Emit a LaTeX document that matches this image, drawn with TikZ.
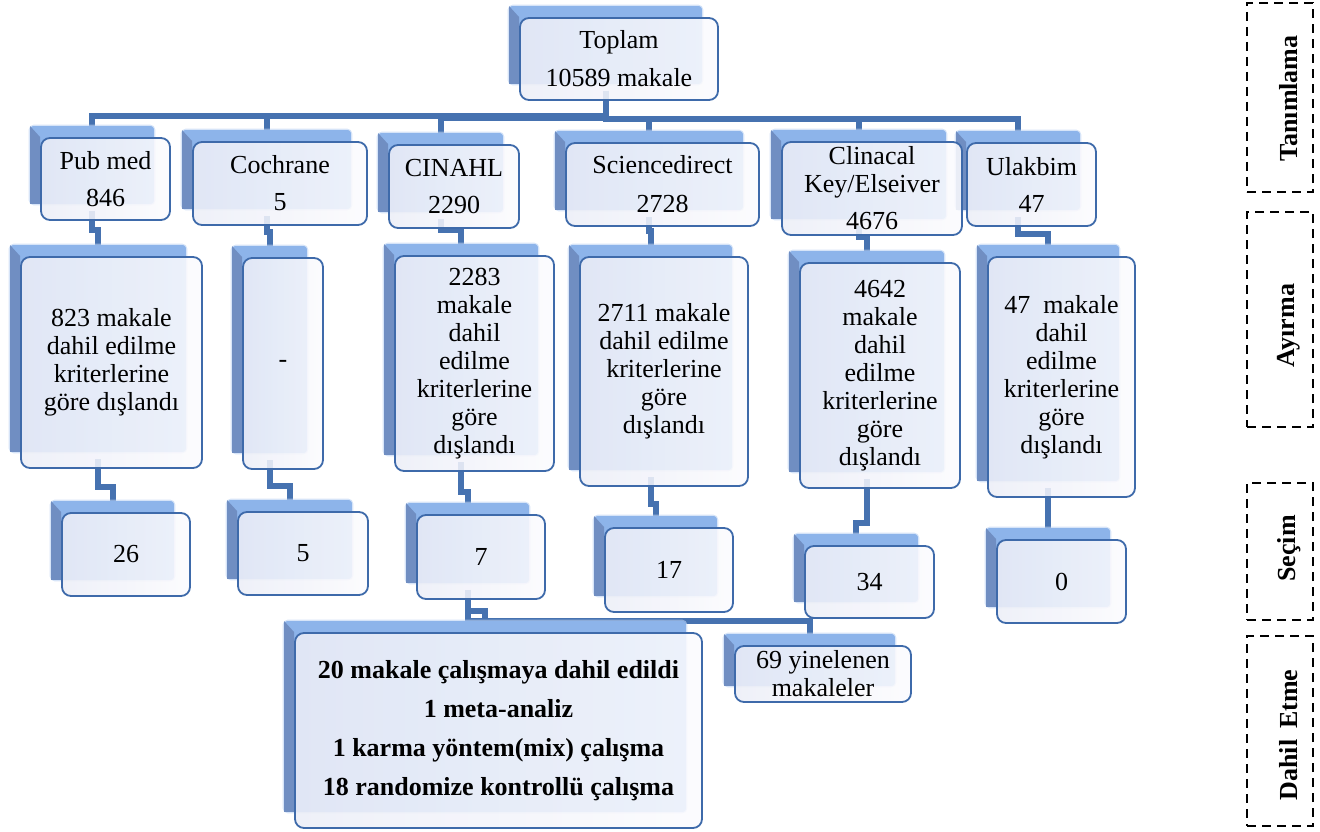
\documentclass[tikz,border=0pt]{standalone}
\usepackage{fontspec}
\setmainfont{Liberation Serif}
\usetikzlibrary{calc}
\pgfdeclarelayer{connlayer}
\pgfdeclarelayer{backlayer}
\pgfsetlayers{connlayer,backlayer,main}

\definecolor{lineblue}{RGB}{70,114,176}
\definecolor{boxborder}{RGB}{62,106,170}
\definecolor{backlight}{RGB}{141,180,234}
\definecolor{backdark}{RGB}{112,142,194}
\definecolor{boxleft}{RGB}{236,238,247}
\definecolor{boxright}{RGB}{251,251,254}

\tikzset{
  fbox/.style={draw=boxborder, line width=1.8pt, rounded corners=9pt,
    left color=boxleft, right color=boxright, fill opacity=0.88, text opacity=1,
    align=center, inner sep=0pt, font=\fontsize{26}{28}\selectfont},
  conn/.style={draw=lineblue, line width=6pt},
  phasebox/.style={draw=black, dash pattern=on 9pt off 6pt, line width=2.2pt,
    minimum width=66pt, inner sep=0pt},
  phasetext/.style={rotate=90, font=\bfseries\fontsize{26}{28}\selectfont, inner sep=0pt},
}

\newcommand{\bk}[1]{%
  \begin{pgfonlayer}{backlayer}
    \draw[backlight!60!white, line width=3pt, rounded corners=4pt, opacity=0.6]
      ($(#1.north west)+(-10,-11)$) rectangle ($(#1.south east)+(-17,-17)$);
    \fill[backlight, rounded corners=3pt]
      ($(#1.north west)+(-10,-11)$) rectangle ($(#1.south east)+(-17,-17)$);
    \fill[backdark]
      ($(#1.north west)+(-10,-11)$) -- (#1.north west) -- ($(#1.south west)+(0,-17)$)
      -- ($(#1.south west)+(-10,-17)$) -- cycle;
  \end{pgfonlayer}}

\newcommand{\elb}[3]{%
  \coordinate (s) at ($(#2.south)+(-13.5,-10)$);
  \coordinate (e) at ($(#3.north)+(-13.5,-11)$);
  \begin{pgfonlayer}{connlayer}
    \draw[conn] (s) |- ($(s)!#1!(e)$) -| (e);
  \end{pgfonlayer}}

\begin{document}
\begin{tikzpicture}[x=1pt,y=-1pt]
\useasboundingbox (0,0) rectangle (1320,832);

% top
\node[fbox, minimum width=198, minimum height=82] (top) at (619,59) {Toplam\\[10pt]10589 makale};

% row 1
\node[fbox, minimum width=129, minimum height=82] (pub) at (105.5,179) {Pub med\\[9pt]846};
\node[fbox, minimum width=174, minimum height=83] (coch) at (280,183.5) {Cochrane\\[9pt]5};
\node[fbox, minimum width=130, minimum height=83] (cin) at (454,186.5) {CINAHL\\[9pt]2290};
\node[fbox, minimum width=193, minimum height=83] (sci) at (662.5,184.5) {Sciencedirect\\[11pt]2728};
\node[fbox, minimum width=180, minimum height=93] (cli) at (872,188.5) {Clinacal\\Key/Elseiver\\[9pt]4676};
\node[fbox, minimum width=129, minimum height=83] (ula) at (1031.5,184.5) {Ulakbim\\[9pt]47};

% row 2
\node[fbox, minimum width=181, minimum height=211] (pubx) at (111.5,362.5) {823 makale\\dahil edilme\\kriterlerine\\göre dışlandı};
\node[fbox, minimum width=80, minimum height=211] (cochx) at (283,363.5) {-};
\node[fbox, minimum width=159, minimum height=215] (cinx) at (474.5,363.5) {2283\\makale\\dahil\\edilme\\kriterlerine\\göre\\dışlandı};
\node[fbox, minimum width=168, minimum height=229] (scix) at (664,371.5) {2711 makale\\dahil edilme\\kriterlerine\\göre\\dışlandı};
\node[fbox, minimum width=160, minimum height=225] (clix) at (880,375.5) {4642\\makale\\dahil\\edilme\\kriterlerine\\göre\\dışlandı};
\node[fbox, minimum width=147, minimum height=240] (ulax) at (1061.5,377) {47\ \ makale\\dahil\\edilme\\kriterlerine\\göre\\dışlandı};

% row 3
\node[fbox, minimum width=128, minimum height=83] (pubn) at (126,554.5) {26};
\node[fbox, minimum width=130, minimum height=83] (cochn) at (303,553.5) {5};
\node[fbox, minimum width=128, minimum height=84] (cinn) at (481,557) {7};
\node[fbox, minimum width=128, minimum height=84] (scin) at (669,570) {17};
\node[fbox, minimum width=129, minimum height=72] (clin) at (869.5,582) {34};
\node[fbox, minimum width=129, minimum height=83] (ulan) at (1061.5,581.5) {0};

% bottom
\node[fbox, minimum width=176, minimum height=56] (dup) at (823,674) {69 yinelenen\\makaleler};
\node[fbox, minimum width=407, minimum height=195, font=\bfseries\fontsize{26}{28}\selectfont] (final) at (498.5,730.5)
  {20 makale çalışmaya dahil edildi\\[11pt]1 meta-analiz\\[11pt]1 karma yöntem(mix) çalışma\\[11pt]18 randomize kontrollü çalışma};

% back boxes
\bk{top}
\bk{pub}\bk{coch}\bk{cin}\bk{sci}\bk{cli}\bk{ula}
\bk{pubx}\bk{cochx}\bk{cinx}\bk{scix}\bk{clix}\bk{ulax}
\bk{pubn}\bk{cochn}\bk{cinn}\bk{scin}\bk{clin}\bk{ulan}
\bk{dup}\bk{final}

% connectors from top
\coordinate (ts) at ($(top.south)+(-13.5,-10)$);
\begin{pgfonlayer}{connlayer}
  \draw[conn] (ts) -- ++(0,25) -| ($(pub.north)+(-13.5,-11)$);
  \draw[conn] (ts) -- ++(0,25) -| ($(coch.north)+(-13.5,-11)$);
  \draw[conn] (ts) -- ++(0,27) -| ($(cin.north)+(-13.5,-11)$);
  \draw[conn] (ts) -- ++(0,28) -| ($(sci.north)+(-13.5,-11)$);
  \draw[conn] (ts) -- ++(0,28) -| ($(cli.north)+(-13.5,-11)$);
  \draw[conn] (ts) -- ++(0,28) -| ($(ula.north)+(-13.5,-11)$);
\end{pgfonlayer}

% row1 -> row2
\elb{0.55}{pub}{pubx}
\elb{0.52}{coch}{cochx}
\elb{0.45}{cin}{cinx}
\elb{0.5}{sci}{scix}
\elb{0.45}{cli}{clix}
\elb{0.6}{ula}{ulax}

% row2 -> row3
\elb{0.66}{pubx}{pubn}
\elb{0.66}{cochx}{cochn}
\elb{0.72}{cinx}{cinn}
\elb{0.7}{scix}{scin}
\elb{0.8}{clix}{clin}
\elb{0.5}{ulax}{ulan}

% row3 -> bottom
\elb{0.67}{cinn}{final}
\elb{0.7}{cinn}{dup}

% phase labels
\node[phasebox, minimum height=189] (p1) at (1280,97.5) {};
\node[phasebox, minimum height=215] (p2) at (1280,319.5) {};
\node[phasebox, minimum height=137] (p3) at (1280,551.5) {};
\node[phasebox, minimum height=190] (p4) at (1280,731) {};
\node[phasetext] (t1) at ($(p1.center)+(9,1)$) {Tanımlama};
\node[phasetext] (t2) at ($(p2.center)+(9,6)$) {Ayırma};
\node[phasetext] (t3) at ($(p3.center)+(9,-3)$) {Seçim};
\node[phasetext] (t4) at ($(p4.center)+(9,4)$) {Dahil\hspace{11pt}Etme};
\end{tikzpicture}
\end{document}
